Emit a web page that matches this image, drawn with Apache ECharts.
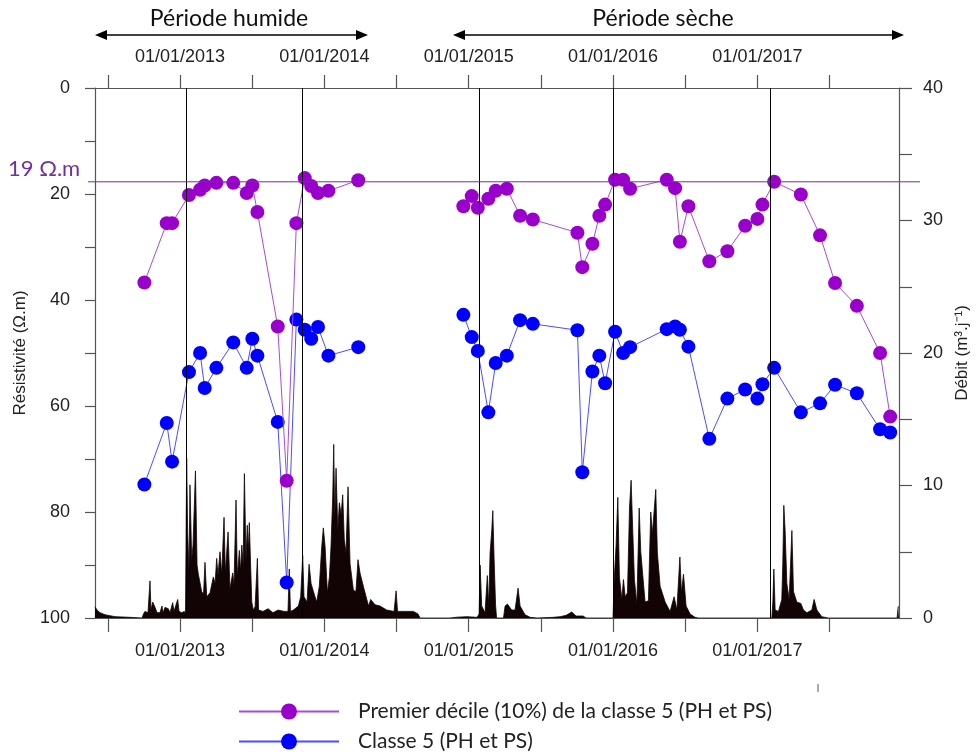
<!DOCTYPE html>
<html>
<head>
<meta charset="utf-8">
<script src="https://cdn.jsdelivr.net/npm/echarts@6/dist/echarts.min.js"></script>
<style>
html, body { margin: 0; padding: 0; background: #fff; }
#app { width: 977px; height: 753px; }
</style>
</head>
<body>
<div id="app"></div>
<script>
// dates des campagnes (en annees decimales)
var campagnes = [2012.753, 2012.908, 2012.945, 2013.062, 2013.139, 2013.171, 2013.252, 2013.369, 2013.462, 2013.501,
    2013.536, 2013.677, 2013.739, 2013.806, 2013.864, 2013.909, 2013.956, 2014.028, 2014.235,
    2014.963, 2015.021, 2015.063, 2015.136, 2015.187, 2015.264, 2015.356, 2015.444, 2015.753, 2015.787,
    2015.857, 2015.905, 2015.945, 2016.014, 2016.070, 2016.118, 2016.372, 2016.430, 2016.463, 2016.522,
    2016.667, 2016.792, 2016.915, 2017.000, 2017.035, 2017.116, 2017.301, 2017.434, 2017.538, 2017.689,
    2017.850, 2017.920];
// premier decile (10%) de la classe 5
var decile10 = [36.7, 25.5, 25.5, 20.2, 19.2, 18.4, 17.9, 17.9, 19.8, 18.4,
    23.4, 45.0, 74.1, 25.5, 17.0, 18.5, 19.8, 19.4, 17.4,
    22.3, 20.4, 22.6, 20.9, 19.4, 19.0, 24.1, 24.8, 27.3, 33.8,
    29.4, 24.1, 22.0, 17.3, 17.3, 19.0, 17.3, 18.9, 29.0, 22.3,
    32.7, 30.8, 26.0, 24.7, 22.0, 17.7, 20.1, 27.8, 36.8, 41.1,
    50.0, 62.0];
// classe 5
var classe5 = [74.8, 63.2, 70.5, 53.6, 50.0, 56.6, 52.8, 48.0, 52.8, 47.3,
    50.5, 63.0, 93.3, 43.7, 45.6, 47.3, 45.1, 50.5, 48.9,
    42.8, 47.0, 49.6, 61.2, 51.9, 50.5, 43.8, 44.5, 45.7, 72.5,
    53.5, 50.5, 55.7, 46.0, 50.0, 48.9, 45.5, 45.0, 45.6, 48.8,
    66.2, 58.6, 56.9, 58.6, 55.9, 52.8, 61.2, 59.5, 56.0, 57.6,
    64.4, 65.0];

var debitDates = [
    2012.411, 2012.425, 2012.446, 2012.480, 2012.550, 2012.654, 2012.737,
    2012.747, 2012.757, 2012.778, 2012.792, 2012.799, 2012.811, 2012.827, 2012.841, 2012.861, 2012.875,
    2012.882, 2012.896, 2012.919, 2012.931, 2012.949, 2012.958, 2012.984, 2012.993, 2013.012, 2013.030, 2013.038,
    2013.046, 2013.053, 2013.062, 2013.069, 2013.081, 2013.090, 2013.107, 2013.118, 2013.127, 2013.150,
    2013.163, 2013.173, 2013.185, 2013.208, 2013.231, 2013.243, 2013.254, 2013.263, 2013.277, 2013.289,
    2013.305, 2013.314, 2013.333, 2013.346, 2013.365, 2013.374, 2013.388, 2013.397, 2013.411, 2013.419,
    2013.428, 2013.437, 2013.446, 2013.457, 2013.466, 2013.473, 2013.480, 2013.497, 2013.508, 2013.520,
    2013.536, 2013.544, 2013.575, 2013.610, 2013.644, 2013.679, 2013.721, 2013.748, 2013.757, 2013.765,
    2013.785, 2013.820, 2013.836, 2013.850, 2013.859, 2013.880, 2013.894, 2013.908, 2013.924, 2013.947,
    2013.965, 2013.982, 2013.993, 2014.005, 2014.021, 2014.035, 2014.046, 2014.058, 2014.065, 2014.072,
    2014.081, 2014.093, 2014.104, 2014.116, 2014.127, 2014.138, 2014.150, 2014.164, 2014.178, 2014.201,
    2014.219, 2014.233, 2014.247, 2014.270, 2014.294, 2014.306, 2014.321, 2014.351, 2014.386, 2014.432,
    2014.483, 2014.497, 2014.507, 2014.571, 2014.617, 2014.649, 2014.663,
    2014.871, 2014.917, 2014.987, 2015.058, 2015.072, 2015.079, 2015.090, 2015.113, 2015.129, 2015.139,
    2015.148, 2015.160, 2015.167, 2015.176, 2015.186, 2015.193, 2015.241, 2015.252, 2015.268, 2015.298,
    2015.321, 2015.342, 2015.356, 2015.390, 2015.425, 2015.474, 2015.585, 2015.633, 2015.675, 2015.714,
    2015.744, 2015.792, 2015.813,
    2016.000, 2016.007, 2016.021, 2016.033, 2016.044, 2016.061, 2016.072, 2016.084, 2016.100, 2016.114,
    2016.125, 2016.137, 2016.148, 2016.165, 2016.181, 2016.192, 2016.206, 2016.222, 2016.245, 2016.261,
    2016.273, 2016.284, 2016.296, 2016.307, 2016.326, 2016.361, 2016.395, 2016.423, 2016.442, 2016.463,
    2016.474, 2016.488, 2016.506, 2016.534, 2016.568, 2016.589, 2016.929, 2016.938, 2016.946,
    2017.100, 2017.107, 2017.114, 2017.123, 2017.146, 2017.169, 2017.176, 2017.183, 2017.192, 2017.204,
    2017.220, 2017.239, 2017.250, 2017.273, 2017.301, 2017.319, 2017.343, 2017.377, 2017.393, 2017.412,
    2017.446, 2017.490, 2017.968, 2017.975, 2017.981
];
var debitValeurs = [
    0.85, 0.6, 0.4, 0.25, 0.1, 0.05, 0,
    0.3, 0.5, 0.4, 2.8, 0.6, 1.2, 0.8, 0.4, 0.4, 0.9,
    0.4, 0.8, 0.7, 0.4, 1.15, 0.5, 1.4, 0.5, 0.4, 0.5, 0.3,
    12.06, 6.4, 3.5, 10.05, 4.4, 5.5, 11.1, 4.0, 3.3, 2.0,
    1.8, 4.2, 1.6, 1.9, 3.1, 2.6, 4.5, 3.2, 5.0, 3.3,
    7.6, 3.4, 6.5, 2.2, 3.4, 2.5, 8.9, 3.1, 5.1, 3.5,
    5.5, 4.0, 10.9, 4.4, 7.0, 5.0, 7.2, 1.2, 0.6, 0.85,
    4.5, 0.6, 0.5, 0.7, 0.4, 0.6, 0.5, 0.5, 3.7, 0.5,
    0.6, 0.9, 1.6, 4.7, 1.6, 1.2, 4.05, 2.6, 2.0, 1.2,
    2.4, 5.4, 6.8, 5.4, 1.9, 3.1, 5.4, 9.2, 13.1, 7.4,
    11.3, 6.65, 8.7, 7.8, 9.3, 5.9, 4.9, 9.9, 4.1, 2.1,
    2.0, 4.4, 3.4, 2.4, 1.4, 0.9, 1.4, 1.0, 0.9, 0.6,
    0.5, 2.05, 0.5, 0.5, 0.5, 0.3, 0,
    0, 0.06, 0.1, 0.05, 0.3, 4.0, 0.9, 0.4, 3.2, 0.9,
    4.9, 6.65, 8.1, 4.4, 1.0, 0, 0, 0.9, 1.05, 0.6,
    0.6, 2.25, 0.9, 0.25, 0.05, 0, 0.05, 0.1, 0.2, 0.45,
    0.15, 0.15, 0,
    0, 2.7, 5.5, 9.1, 3.1, 1.4, 2.9, 1.6, 1.9, 8.3,
    10.4, 6.4, 2.9, 1.0, 8.3, 5.0, 3.2, 1.2, 1.3, 8.0,
    6.4, 8.0, 9.7, 4.9, 2.4, 1.2, 0.5, 1.6, 0.6, 4.6,
    1.9, 3.3, 0.9, 0.3, 0.05, 0, 0, 0.05, 0,
    0, 1.2, 3.7, 0.6, 0.5, 1.4, 4.1, 8.5, 6.6, 2.6,
    1.4, 6.6, 2.0, 1.2, 1.1, 0.6, 0.4, 0.6, 1.4, 0.6,
    0.1, 0, 0, 0.85, 0.85
];

// traits verticaux noirs (reperes de dates)
var reperes = [2013.042, 2013.852, 2015.065, 2016.000, 2017.085];
var semestres = [2012.5, 2013, 2013.5, 2014, 2014.5, 2015, 2015.5, 2016, 2016.5, 2017, 2017.5];
var annees = [2013, 2014, 2015, 2016, 2017];
var seuil = 17.7;   // ligne "19 Ohm.m"
var xMin = 2012.411, xMax = 2017.981;

var nomDecile = 'Premier décile (10%) de la classe 5 (PH et PS)';
var nomClasse = 'Classe 5 (PH et PS)';
var police = '"Liberation Sans", Arial, sans-serif';
var policeTexte = 'Lato, "Open Sans", sans-serif';

// coupe la ligne quand il y a un long trou entre deux campagnes
function serie(valeurs) {
    var res = [];
    for (var i = 0; i < campagnes.length; i++) {
        if (i > 0 && campagnes[i] - campagnes[i - 1] > 0.5) {
            res.push([(campagnes[i] + campagnes[i - 1]) / 2, null]);
        }
        res.push([campagnes[i], valeurs[i]]);
    }
    return res;
}

var axeX = function (pos, tickLen, margin) {
    return {
        type: 'value', position: pos, min: xMin, max: xMax,
        axisLine: { show: true, onZero: false, lineStyle: { color: '#555', width: 1.2 } },
        axisTick: { show: true, customValues: semestres, length: tickLen, lineStyle: { color: '#555', width: 1.2 } },
        axisLabel: {
            customValues: annees, margin: margin,
            formatter: function (v) { return '01/01/' + Math.round(v); },
            fontSize: 18, fontFamily: police, color: '#222'
        },
        splitLine: { show: false }
    };
};

var chart = echarts.init(document.getElementById('app'));

var option = {
    animation: false,
    backgroundColor: '#fff',
    grid: { left: 95, right: 78, top: 88, bottom: 135, containLabel: false, outerBoundsMode: 'none' },
    legend: {
        orient: 'vertical', left: 238, top: 701, padding: 0,
        itemWidth: 100, itemHeight: 20, itemGap: 9,
        textStyle: { fontFamily: policeTexte, fontSize: 21, color: '#222', padding: [0, 0, 0, 14] },
        data: [nomDecile, nomClasse]
    },
    xAxis: [axeX('bottom', 14, 24), axeX('top', 13, 22)],
    yAxis: [{
        type: 'value', position: 'left', inverse: true, min: 0, max: 100, interval: 10,
        name: 'Résistivité (Ω.m)', nameLocation: 'middle', nameGap: 62,
        nameTextStyle: { fontSize: 17, fontFamily: police, color: '#222' },
        axisLine: { show: true, onZero: false, lineStyle: { color: '#555', width: 1.2 } },
        axisTick: { show: true, length: 10, lineStyle: { color: '#555', width: 1.2 } },
        axisLabel: {
            margin: 25, fontSize: 18, fontFamily: police, color: '#222',
            formatter: function (v) { return v % 20 === 0 ? v : ''; }
        },
        splitLine: { show: false }
    }, {
        type: 'value', position: 'right', min: 0, max: 40, interval: 5,
        name: 'Débit (m³.j⁻¹)', nameLocation: 'middle', nameGap: 54,
        nameTextStyle: { fontSize: 17, fontFamily: police, color: '#222' },
        axisLine: { show: true, onZero: false, lineStyle: { color: '#555', width: 1.2 } },
        axisTick: { show: true, length: 13, lineStyle: { color: '#555', width: 1.2 } },
        axisLabel: {
            margin: 24, fontSize: 18, fontFamily: police, color: '#222',
            formatter: function (v) { return v % 10 === 0 ? v : ''; }
        },
        splitLine: { show: false }
    }],
    series: [{
        name: 'Débit', type: 'line', xAxisIndex: 0, yAxisIndex: 1, z: 2,
        data: debitDates.map(function (d, i) { return [d, debitValeurs[i]]; }),
        showSymbol: false, symbol: 'none', sampling: 'none',
        lineStyle: { color: '#120404', width: 0.8 },
        areaStyle: { color: '#120404', opacity: 1 },
        markLine: {
            silent: true, symbol: 'none', label: { show: false },
            lineStyle: { color: '#000', width: 1, type: 'solid' },
            data: reperes.map(function (v) { return { xAxis: v }; })
        }
    }, {
        name: nomClasse, type: 'line', xAxisIndex: 0, yAxisIndex: 0, z: 3,
        data: serie(classe5),
        symbol: 'circle', symbolSize: 14,
        itemStyle: { color: '#0000FF' },
        lineStyle: { color: '#4D4DFF', width: 1 }
    }, {
        name: nomDecile, type: 'line', xAxisIndex: 0, yAxisIndex: 0, z: 4,
        data: serie(decile10),
        symbol: 'circle', symbolSize: 14,
        itemStyle: { color: '#9900CC' },
        lineStyle: { color: '#A64DD6', width: 1 }
    }]
};
chart.setOption(option);

// ligne du seuil, fleches des periodes et libelles
var yS = chart.convertToPixel({ yAxisIndex: 0 }, seuil);

function fleche(x1, x2, y) {
    return [
        { type: 'line', shape: { x1: x1 + 8, y1: y, x2: x2 - 8, y2: y }, style: { stroke: '#000', lineWidth: 1.5 } },
        { type: 'polygon', shape: { points: [[x1, y], [x1 + 12, y - 5], [x1 + 12, y + 5]] }, style: { fill: '#000' } },
        { type: 'polygon', shape: { points: [[x2, y], [x2 - 12, y - 5], [x2 - 12, y + 5]] }, style: { fill: '#000' } }
    ];
}

chart.setOption({
    graphic: [
        { type: 'line', z: 10, shape: { x1: 88, y1: yS, x2: 920, y2: yS }, style: { stroke: '#7030A0', lineWidth: 1 } },
        { type: 'text', z: 10, x: 8, y: yS - 13, style: { text: '19 Ω.m', fill: '#7030A0', font: '22px Lato, "Open Sans", sans-serif', align: 'left', verticalAlign: 'middle' } },
        { type: 'text', x: 229, y: 19, style: { text: 'Période humide', fill: '#111', font: '23px Lato, "Open Sans", sans-serif', align: 'center', verticalAlign: 'middle' } },
        { type: 'text', x: 663, y: 19, style: { text: 'Période sèche', fill: '#111', font: '23px Lato, "Open Sans", sans-serif', align: 'center', verticalAlign: 'middle' } },
        { type: 'line', shape: { x1: 818, y1: 684, x2: 818, y2: 692 }, style: { stroke: '#555', lineWidth: 1 } }
    ].concat(fleche(95, 368, 35), fleche(453, 904, 35))
});
</script>
</body>
</html>
